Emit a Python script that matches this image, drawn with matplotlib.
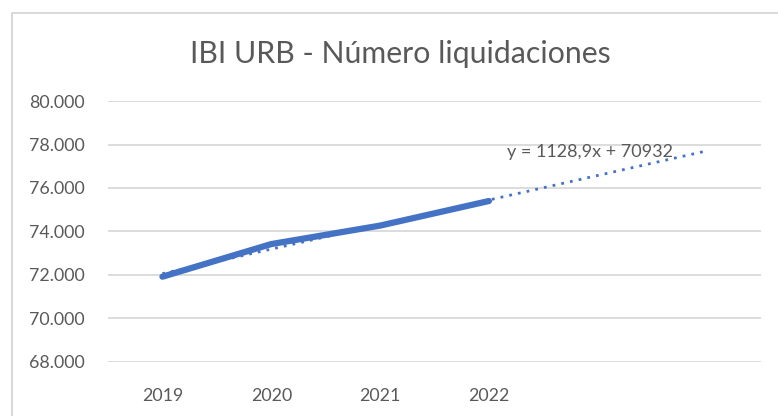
import matplotlib
matplotlib.use("Agg")
import matplotlib.pyplot as plt
from matplotlib.lines import Line2D
from matplotlib.ticker import FuncFormatter
import numpy as np

plt.rcParams['font.family'] = ['Lato', 'DejaVu Sans']

years = ["2019", "2020", "2021", "2022"]
values = [71922, 73422, 74271, 75402]
forecast_periods = 2
title = "IBI URB - Número liquidaciones"

W, H = 778, 416
fig = plt.figure(figsize=(W / 100, H / 100), dpi=100)
fig.patch.set_facecolor("white")

# chart border (Excel style)
fig.add_artist(Line2D([12 / W, 12 / W, 1], [0, 1 - 13 / H, 1 - 13 / H],
                      transform=fig.transFigure, color="#d9d9d9", lw=1.5))

ax = fig.add_axes([108 / W, 1 - 362 / H, (761 - 108) / W, (362 - 101) / H])
x = np.arange(1, len(values) + 1)
blue = "#4472C4"

# trendline
coef = np.polyfit(x, values, 1)
xt = np.array([1, len(values) + forecast_periods])
ax.plot(xt, np.polyval(coef, xt), color=blue, lw=2, ls=(0, (1, 2.2)), zorder=2)
ax.plot(x, values, color=blue, lw=4.5, solid_capstyle="round", zorder=3)

ax.set_xlim(0.5, len(values) + forecast_periods + 0.5)
ax.set_ylim(68000, 80000)
ax.set_yticks(np.arange(68000, 80001, 2000))
ax.yaxis.set_major_formatter(FuncFormatter(lambda v, p: f"{v:,.0f}".replace(",", ".")))
ax.set_xticks(x)
ax.set_xticklabels(years)
ax.grid(axis="y", color="#d9d9d9", lw=1.3)
ax.set_axisbelow(True)
for s in ax.spines.values():
    s.set_visible(False)
ax.tick_params(length=0, colors="#595959", labelsize=12.8)
ax.tick_params(axis="y", pad=17)
ax.tick_params(axis="x", pad=19)

eq = f"y = {coef[0]:.1f}x + {coef[1]:.0f}".replace(".", ",")
ax.text(4.17, 77660, eq, color="#595959", fontsize=13, va="center", ha="left")

fig.text(0.515, 1 - 54 / H, title, ha="center", va="center", fontsize=21.8, color="#595959")

fig.savefig("out.png", dpi=100)
